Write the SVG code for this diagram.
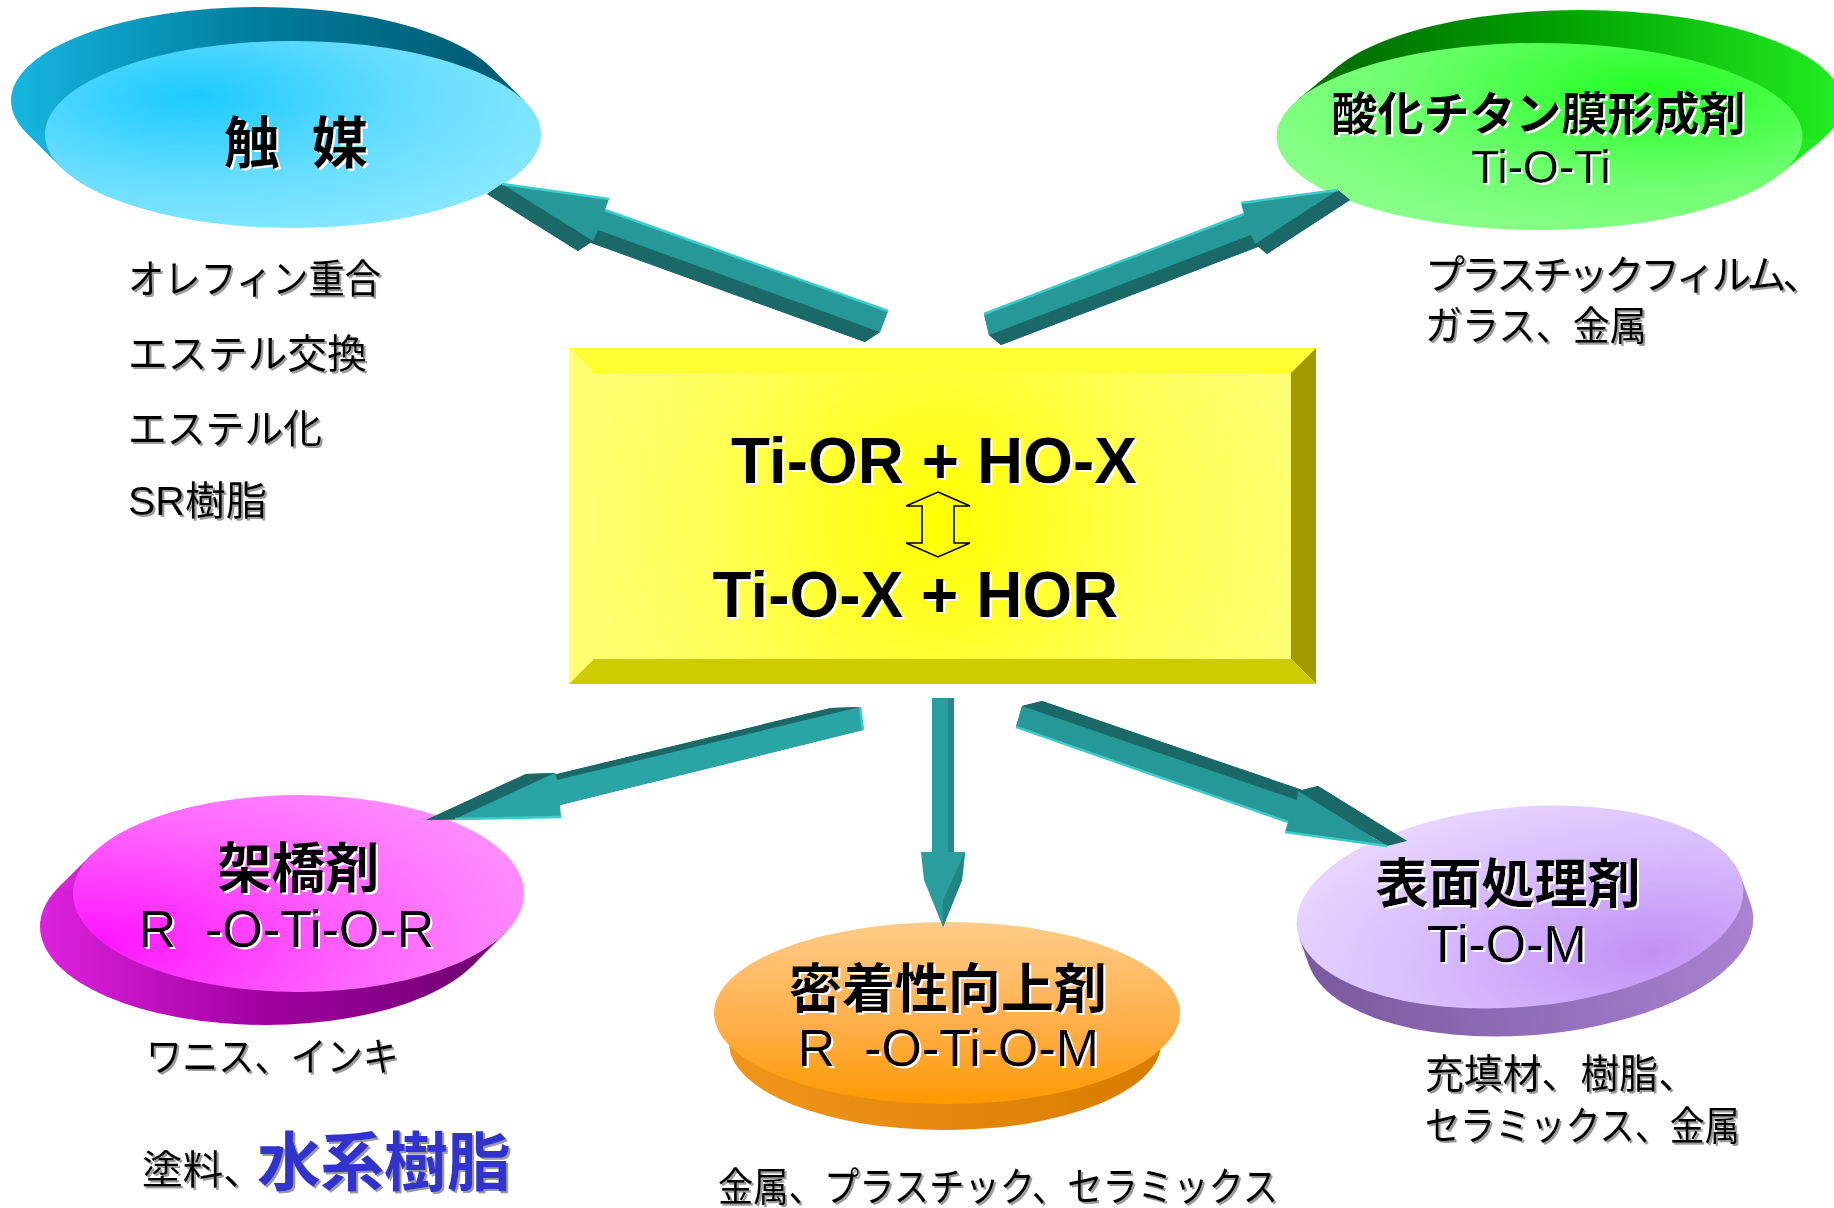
<svg xmlns="http://www.w3.org/2000/svg" width="1834" height="1208" viewBox="0 0 1834 1208">
<defs>
  <radialGradient id="cyF" cx="0.3" cy="0.3" r="0.8"><stop offset="0" stop-color="#1ccaff"/><stop offset="0.55" stop-color="#66ddff"/><stop offset="1" stop-color="#88e8ff"/></radialGradient>
  <linearGradient id="cyS" x1="0" y1="0" x2="1" y2="0"><stop offset="0" stop-color="#16b6e0"/><stop offset="0.5" stop-color="#007c9c"/><stop offset="1" stop-color="#005a70"/></linearGradient>
  <radialGradient id="grF" cx="0.72" cy="0.25" r="0.8"><stop offset="0" stop-color="#22ff22"/><stop offset="0.6" stop-color="#6cff6c"/><stop offset="1" stop-color="#88ff88"/></radialGradient>
  <linearGradient id="grS" x1="0" y1="0" x2="1" y2="0"><stop offset="0" stop-color="#006a00"/><stop offset="0.45" stop-color="#00a000"/><stop offset="1" stop-color="#22ee22"/></linearGradient>
  <radialGradient id="mgF" cx="0.05" cy="0.75" r="1"><stop offset="0" stop-color="#ff14ff"/><stop offset="0.6" stop-color="#ff66ff"/><stop offset="1" stop-color="#ff8cff"/></radialGradient>
  <linearGradient id="mgS" x1="0" y1="0" x2="1" y2="0"><stop offset="0" stop-color="#dd22dd"/><stop offset="0.5" stop-color="#a000a0"/><stop offset="1" stop-color="#700070"/></linearGradient>
  <linearGradient id="orF" x1="0" y1="0" x2="0" y2="1"><stop offset="0" stop-color="#ffcc88"/><stop offset="0.6" stop-color="#ffad44"/><stop offset="1" stop-color="#ff9900"/></linearGradient>
  <linearGradient id="orS" x1="0" y1="0" x2="1" y2="0"><stop offset="0" stop-color="#f0961a"/><stop offset="1" stop-color="#d87c00"/></linearGradient>
  <radialGradient id="lvF" cx="0.78" cy="0.78" r="0.9"><stop offset="0" stop-color="#c391f6"/><stop offset="0.6" stop-color="#d9bffd"/><stop offset="1" stop-color="#e8d6ff"/></radialGradient>
  <linearGradient id="lvS" x1="0" y1="0" x2="1" y2="0"><stop offset="0" stop-color="#7a5a9e"/><stop offset="1" stop-color="#a982d2"/></linearGradient>
  <radialGradient id="ylF" cx="938" cy="520" r="380" gradientUnits="userSpaceOnUse"><stop offset="0" stop-color="#ffff00"/><stop offset="0.6" stop-color="#ffff55"/><stop offset="1" stop-color="#ffff77"/></radialGradient>
  <filter id="tw" x="-5%" y="-10%" width="110%" height="130%"><feDropShadow dx="2" dy="2" stdDeviation="0" flood-color="#ffffff"/></filter>
  <filter id="tg" x="-5%" y="-10%" width="110%" height="130%"><feDropShadow dx="2" dy="2" stdDeviation="0.6" flood-color="#8a8a8a" flood-opacity="0.85"/></filter>
</defs>
<style>
  text { font-family: "Liberation Sans", "Noto Sans CJK JP", sans-serif; fill: #000; }
  .ttl { font-weight: bold; filter: url(#tw); }
  .fm { filter: url(#tw); }
  .body { font-size: 40px; filter: url(#tg); }
  .side { fill: #1b6868; }
  .front { fill: #269898; }
  .front2 { fill: #2aa5a5; }
  .hl { fill: none; stroke: #3ccccc; stroke-width: 2.5; stroke-linejoin: round; }
</style>
<rect width="1834" height="1208" fill="#ffffff"/>

<g id="node-catalyst">
  <ellipse cx="259" cy="100.5" rx="248" ry="93.5" fill="url(#cyS)"/>
  <polygon points="525,101.5 491,67.5 27,133.5 61,167.5" fill="url(#cyS)"/>
  <ellipse cx="293" cy="134.5" rx="248" ry="93.5" fill="url(#cyF)"/>
  <text class="ttl" x="224" y="163" font-size="56" letter-spacing="-12">触　媒</text>
  <text class="body" x="128" y="293" textLength="253" lengthAdjust="spacingAndGlyphs">オレフィン重合</text>
  <text class="body" x="128" y="368" textLength="239" lengthAdjust="spacingAndGlyphs">エステル交換</text>
  <text class="body" x="128" y="443" textLength="194" lengthAdjust="spacingAndGlyphs">エステル化</text>
  <text class="body" x="128" y="515" textLength="139" lengthAdjust="spacingAndGlyphs">SR樹脂</text>
</g>

<g id="node-titania-film">
  <ellipse cx="1579.5" cy="103.5" rx="263" ry="93.5" fill="url(#grS)"/>
  <polygon points="1781,173.5 1821,140.5 1338,66.5 1298,99.5" fill="url(#grS)"/>
  <ellipse cx="1539.5" cy="136.5" rx="263" ry="93.5" fill="url(#grF)"/>
  <text class="ttl" x="1538.5" y="130" font-size="46" text-anchor="middle">酸化チタン膜形成剤</text>
  <text class="fm" x="1541" y="183" font-size="46" text-anchor="middle">Ti-O-Ti</text>
  <text class="body" x="1425" y="289" letter-spacing="-4">プラスチックフィルム、</text>
  <text class="body" x="1425" y="340" textLength="222" lengthAdjust="spacingAndGlyphs">ガラス、金属</text>
</g>

<g id="node-crosslinker">
  <ellipse cx="265.5" cy="926.5" rx="225.5" ry="98.5" fill="url(#mgS)"/>
  <polygon points="505,933 472,966 59,887 92,854" fill="url(#mgS)"/>
  <ellipse cx="298.5" cy="893.5" rx="225.5" ry="98.5" fill="url(#mgF)"/>
  <text class="ttl" x="298.5" y="888" font-size="54" text-anchor="middle">架橋剤</text>
  <text class="fm" x="286.5" y="947" font-size="52" text-anchor="middle" xml:space="preserve">R  -O-Ti-O-R</text>
  <text class="body" x="146" y="1071" textLength="253" lengthAdjust="spacingAndGlyphs">ワニス、インキ</text>
  <text class="body" x="142" y="1184" font-size="46" textLength="122" lengthAdjust="spacingAndGlyphs">塗料、</text>
  <text x="257" y="1185" font-size="64" font-weight="bold" style="fill:#3333cc" filter="url(#tg)" textLength="254" lengthAdjust="spacing">水系樹脂</text>
</g>

<g id="node-adhesion">
  <ellipse cx="945" cy="1043" rx="216" ry="87" fill="url(#orS)"/>
  <polygon points="714,1013 1180,1013 1161,1043 729,1043" fill="url(#orS)"/>
  <ellipse cx="947" cy="1013" rx="233" ry="91" fill="url(#orF)"/>
  <text class="ttl" x="948" y="1008" font-size="53" text-anchor="middle">密着性向上剤</text>
  <text class="fm" x="948.5" y="1066" font-size="52" text-anchor="middle" xml:space="preserve">R  -O-Ti-O-M</text>
  <text class="body" x="718" y="1201" textLength="560" lengthAdjust="spacingAndGlyphs">金属、プラスチック、セラミックス</text>
</g>

<g id="node-surface">
  <g transform="translate(1520,907) rotate(-5)">
    <ellipse cx="7.5" cy="28.8" rx="224" ry="100" fill="url(#lvS)"/>
    <polygon points="222.5,-11.6 230,17.2 -215,40.4 -222.5,11.6" fill="url(#lvS)"/>
    <ellipse cx="0" cy="0" rx="224" ry="100" fill="url(#lvF)"/>
  </g>
  <text class="ttl" x="1508" y="903" font-size="53" text-anchor="middle">表面処理剤</text>
  <text class="fm" x="1507" y="962" font-size="52" text-anchor="middle">Ti-O-M</text>
  <text class="body" x="1425" y="1088" textLength="272" lengthAdjust="spacingAndGlyphs">充填材、樹脂、</text>
  <text class="body" x="1425" y="1140" textLength="315" lengthAdjust="spacingAndGlyphs">セラミックス、金属</text>
</g>

<g id="node-center">
  <rect x="594" y="373" width="697" height="286" fill="url(#ylF)"/>
  <polygon points="569,348 1316,348 1291,373 594,373" fill="#ffff33"/>
  <polygon points="569,348 594,373 594,659 569,684" fill="#ffff70"/>
  <polygon points="1316,348 1316,684 1291,659 1291,373" fill="#a39a00"/>
  <polygon points="569,684 594,659 1291,659 1316,684" fill="#cccc00"/>
  <text class="ttl" x="934" y="483" font-size="64" text-anchor="middle">Ti-OR + HO-X</text>
  <polygon points="938,492 970,506 954,506 954,543 970,543 938,557 906,543 922,543 922,506 906,506" fill="none" stroke="#000" stroke-width="1.6" stroke-linejoin="miter"/>
  <text class="ttl" x="915.5" y="617" font-size="64" text-anchor="middle">Ti-O-X + HOR</text>
</g>

<g id="connectors">
  <g id="arrow-catalyst">
    <polygon class="side" points="487,194 594,209 590,220 873,321 865,342 583,240 578,251"/>
    <polygon class="side" points="502,184 609,199 594,209 487,194"/>
    <polygon class="side" points="605,210 888,311 873,321 590,220"/>
    <polygon class="side" points="888,311 880,332 865,342 873,321"/>
    <polygon class="side" points="880,332 598,230 583,240 865,342"/>
    <polygon class="side" points="598,230 593,241 578,251 583,240"/>
    <polygon class="side" points="593,241 502,184 487,194 578,251"/>
    <polygon class="front" points="502,184 609,199 605,210 888,311 880,332 598,230 593,241"/>
    <polyline class="hl" points="502,184 609,199"/>
    <polyline class="hl" points="605,210 888,311"/>
  </g>
  <g id="arrow-film">
    <polygon class="side" points="1350,200 1253,213 1256,224 996,324 1001,345 1263,245 1267,254"/>
    <polygon class="side" points="1338,190 1241,203 1253,213 1350,200"/>
    <polygon class="side" points="1244,214 984,314 996,324 1256,224"/>
    <polygon class="side" points="984,314 989,335 1001,345 996,324"/>
    <polygon class="side" points="989,335 1251,235 1263,245 1001,345"/>
    <polygon class="side" points="1251,235 1255,244 1267,254 1263,245"/>
    <polygon class="side" points="1255,244 1338,190 1350,200 1267,254"/>
    <polygon class="front" points="1338,190 1241,203 1244,214 984,314 989,335 1251,235 1255,244"/>
    <polyline class="hl" points="1338,190 1241,203"/>
    <polyline class="hl" points="1244,214 984,314"/>
  </g>
  <g id="arrow-crosslinker">
    <polygon class="side" points="831,708 834,731 531,806 532,818 426,820 526,774 528,781"/>
    <polygon class="side" points="860,707 863,730 834,731 831,708"/>
    <polygon class="side" points="863,730 560,805 531,806 834,731"/>
    <polygon class="side" points="561,817 455,819 426,820 532,818"/>
    <polygon class="side" points="455,819 555,773 526,774 426,820"/>
    <polygon class="side" points="555,773 557,780 528,781 526,774"/>
    <polygon class="side" points="557,780 860,707 831,708 528,781"/>
    <polygon class="front2" points="860,707 863,730 560,805 561,817 455,819 555,773 557,780"/>
    <polyline class="hl" points="860,707 863,730"/>
    <polyline class="hl" points="561,817 455,819"/>
  </g>
  <g id="arrow-adhesion">
    <rect x="932" y="698" width="22" height="154" fill="#2a9e9e"/>
    <rect x="948" y="698" width="6" height="154" fill="#23898a"/>
    <polygon points="921,852 965,852 962,880 943,927 924,880" fill="#2a9e9e"/>
    <polygon points="965,852 962,880 943,927 943,900" fill="#218585"/>
  </g>
  <g id="arrow-surface">
    <polygon class="side" points="1042,701 1317,795 1318,786 1407,841 1305,827 1308,817 1036,722"/>
    <polygon class="side" points="1022,706 1297,800 1317,795 1042,701"/>
    <polygon class="side" points="1297,800 1298,791 1318,786 1317,795"/>
    <polygon class="side" points="1298,791 1387,846 1407,841 1318,786"/>
    <polygon class="side" points="1016,727 1022,706 1042,701 1036,722"/>
    <polygon class="front" points="1022,706 1297,800 1298,791 1387,846 1285,832 1288,822 1016,727"/>
    <polyline class="hl" points="1016,727 1288,822"/>
    <polyline class="hl" points="1285,832 1387,846"/>
  </g>
</g>
</svg>
